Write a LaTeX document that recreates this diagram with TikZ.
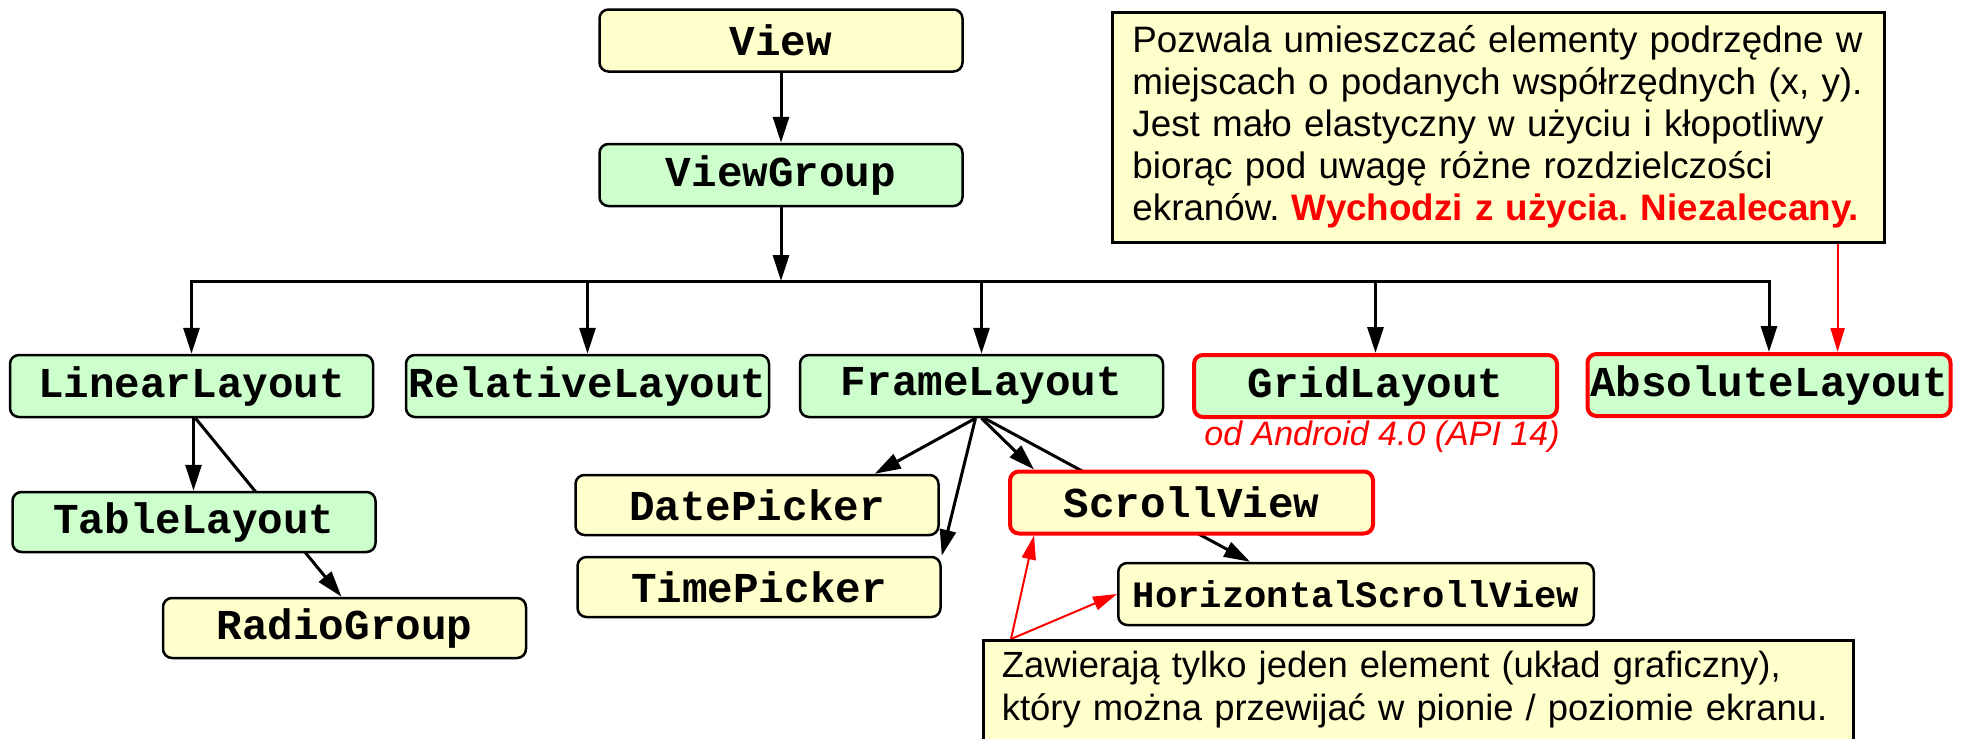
\documentclass[tikz,border=0pt]{standalone}
\usepackage{fontspec}
\setmainfont{Liberation Sans}
\setmonofont{Liberation Mono}
\usetikzlibrary{arrows.meta,calc,backgrounds}
\definecolor{boxyellow}{HTML}{FFFFCC}
\definecolor{boxgreen}{HTML}{CCFFCC}
\definecolor{alertred}{HTML}{FF0000}
\frenchspacing
\tikzset{
  cls/.style={draw, line width=1.25pt, rounded corners=4.5pt,
    minimum width=181.5pt, minimum height=31pt, inner sep=0pt,
    font=\fontsize{21.3pt}{25pt}\selectfont\ttfamily\bfseries},
  yellowbox/.style={cls, fill=boxyellow},
  greenbox/.style={cls, fill=boxgreen},
  alertbox/.style={draw=alertred, line width=2pt},
  notebox/.style={draw, fill=boxyellow, line width=1.3pt, inner sep=0pt},
  notetext/.style={inner sep=0pt, align=left,
    font=\fontsize{18.4pt}{20.9pt}\selectfont},
  conn/.style={line width=1.5pt},
  arr/.style={conn, -{Triangle[length=13pt,width=8pt]}},
  redarr/.style={draw=alertred, line width=1pt,
    -{Triangle[length=12pt,width=7pt]}, fill=alertred}
}
\begin{document}
\begin{tikzpicture}[x=0.5pt,y=-0.5pt]
\useasboundingbox (0,0) rectangle (1961,739);
\clip (0,0) rectangle (1961,739);

% class hierarchy
\node[yellowbox] (view) at (781,40.5) {View};
\node[greenbox] (vgroup) at (781,175) {ViewGroup};
\node[greenbox] (linear) at (191.5,386) {LinearLayout};
\node[greenbox] (relative) at (587.5,386) {RelativeLayout};
\node[greenbox] (frame) at (981.5,386) {FrameLayout};
\node[greenbox, alertbox] (grid) at (1375.5,386) {GridLayout};
\node[greenbox, alertbox] (absolute) at (1769,385) {AbsoluteLayout};
\node[greenbox, minimum height=30pt] (table) at (194,522) {TableLayout};
\node[yellowbox, minimum height=30pt] (radio) at (344.5,628) {RadioGroup};
\node[yellowbox, minimum height=30pt] (date) at (757,505) {DatePicker};
\node[yellowbox, minimum height=30pt] (time) at (759,587) {TimePicker};
\node[yellowbox, alertbox] (scroll) at (1191.5,502.5) {ScrollView};
\node[yellowbox, minimum width=237.75pt,
      font=\fontsize{18.6pt}{22pt}\selectfont\ttfamily\bfseries] (hscroll) at (1356,594) {HorizontalScrollView};

\node[anchor=base, text=alertred, inner sep=0pt,
      font=\fontsize{17pt}{20pt}\selectfont\itshape] (gridnote) at (1382,445) {od Android 4.0 (API 14)};

% explanatory notes
\node[notebox, anchor=north west, minimum width=386pt, minimum height=115pt] (tnote) at (1111,11) {};
\node[notetext, text width=375pt, anchor=base west] (ttext) at (1132,53)
  {Pozwala umieszczać elementy podrzędne w\\
   miejscach o podanych współrzędnych (x, y).\\
   Jest mało elastyczny w użyciu i kłopotliwy\\
   biorąc pod uwagę różne rozdzielczości\\
   ekranów. {\bfseries\color{alertred}Wychodzi z użycia. Niezalecany.}};

\node[notebox, anchor=north west, minimum width=435pt, minimum height=70pt] (bnote) at (982,639) {};
\node[notetext, text width=425pt, anchor=base west,
      font=\fontsize{18.2pt}{21.5pt}\selectfont] (btext) at (1001.5,677)
  {Zawierają tylko jeden element (układ graficzny),\\
   który można przewijać w pionie / poziomie ekranu.};

\coordinate (bus) at (0,281);
\coordinate (tpin) at ($(tnote.south east)+(-48,0)$);
\coordinate (bpin) at ($(bnote.north west)+(29,0)$);

\begin{pgfonlayer}{background}
  \draw[arr] (view.south) -- (vgroup.north);
  \draw[arr] (vgroup.south) -- (vgroup.south |- bus);
  \draw[conn, line cap=rect] (linear.north |- bus) -- (absolute.north |- bus);
  \foreach \n in {linear, relative, frame, grid, absolute}
    \draw[arr] (\n.north |- bus) -- (\n.north);
  \draw[arr] ($(linear.south)+(2,0)$) -- ($(linear.south |- table.north)+(2,0)$);
  \draw[arr] ($(linear.south)+(4,0)$) -- ($(radio.north)+(-3,0)$);
  \draw[arr] ($(frame.south)+(-6,0)$) -- ($(date.north east)+(-65,0)$);
  \draw[arr] ($(frame.south)+(-6,0)$) -- (time.north east);
  \draw[arr] ($(frame.south)+(0,0)$) -- ($(scroll.north west)+(26,0)$);
  \draw[arr] ($(frame.south)+(3,0)$) -- ($(hscroll.north west)+(133,0)$);
  \draw[redarr] (bpin) -- ($(scroll.south west)+(26,0)$);
  \draw[redarr] (bpin) -- (hscroll.west);
  \draw[redarr] (tpin) -- (tpin |- absolute.north);
\end{pgfonlayer}
\end{tikzpicture}
\end{document}
